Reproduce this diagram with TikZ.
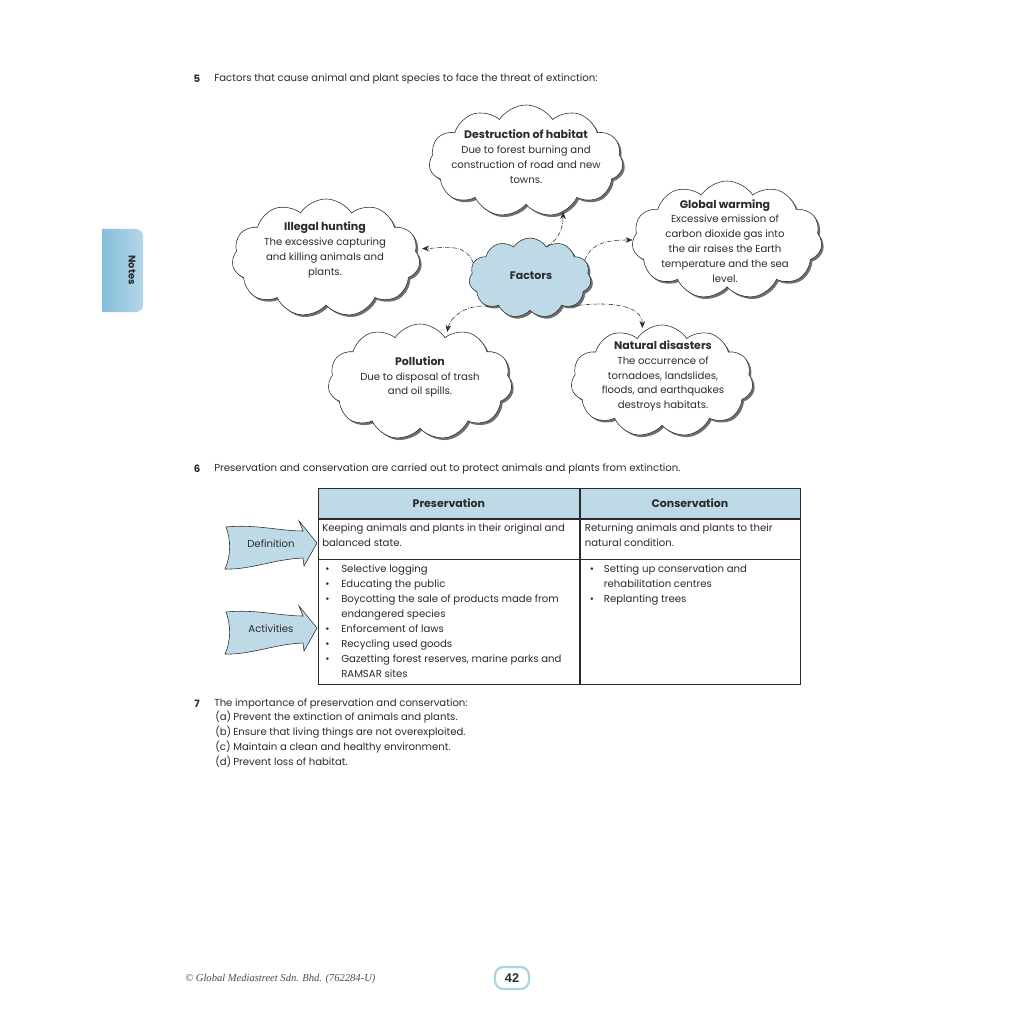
\documentclass[tikz,border=0pt]{standalone}
\usepackage{fontspec}
\setmainfont{Poppins}
\newfontfamily\footfont{Liberation Serif}
\newfontfamily\numfont{Liberation Sans}
\usepackage{tikz}
\usetikzlibrary{positioning,arrows.meta,shapes.symbols,shadows,calc}
\usepackage{xcolor}
\definecolor{inkgrey}{HTML}{2B2B2B}
\definecolor{skyfill}{HTML}{BFDAE7}
\definecolor{tabdark}{HTML}{86BEDB}
\definecolor{tablight}{HTML}{B3D6E8}
\definecolor{frameblue}{HTML}{A8D4E6}
\newcommand{\cloudTitle}[1]{{\fontsize{7.8}{10.6}\selectfont\bfseries #1}}

\begin{document}
\begin{tikzpicture}[
    x=0.025cm, y=-0.025cm,
    bodyText/.style={font=\fontsize{7.2}{10.6}\selectfont, inner sep=0pt, text=inkgrey},
    cloudBox/.style={cloud, cloud puffs=11, cloud puff arc=115, cloud ignores aspect, draw=inkgrey, fill=white, thin, inner sep=0pt,
        drop shadow={shadow xshift=1.5pt, shadow yshift=-1.5pt, opacity=0.7, fill=black!80}},
    cloudText/.style={bodyText, align=center},
    flowArrow/.style={-{Stealth[length=5pt, width=4pt]}, densely dashdotted, draw=inkgrey, thin},
    cellBox/.style={rectangle, draw=inkgrey, thin, inner sep=0pt, anchor=north west, text=inkgrey, font=\fontsize{7.8}{10.6}\selectfont\bfseries},
    blockArrow/.style={draw=inkgrey, fill=skyfill, thin}
]
    \useasboundingbox (0,0) rectangle (1024,1024);
    \fill[white] (0,0) rectangle (1024,1024);

    % side tab
    \shade[left color=tabdark, right color=tablight] (102,229) [rounded corners=5pt] -- (143,229) -- (143,312) [sharp corners] -- (102,312) -- cycle;
    \node[bodyText, font=\fontsize{7}{8}\selectfont\bfseries, rotate=-90] (notesTab) at (132,270) {Notes};

    % section 5
    \node[bodyText, font=\fontsize{7.2}{10.6}\selectfont\bfseries] (numFive) at (197,79) {5};
    \node[bodyText, anchor=west] (headFive) at (214,79) {Factors that cause animal and plant species to face the threat of extinction:};

    \node[cloudBox, minimum width=4.85cm, minimum height=2.8cm] (habitat) at (526,161) {};
    \node[cloudText] (habitatText) at (526,157) {\cloudTitle{Destruction of habitat}\\Due to forest burning and\\construction of road and new\\towns.};

    \node[cloudBox, minimum width=4.7cm, minimum height=2.95cm] (hunting) at (326,258) {};
    \node[cloudText] (huntingText) at (325,250) {\cloudTitle{Illegal hunting}\\The excessive capturing\\and killing animals and\\plants.};

    \node[cloudBox, minimum width=4.75cm, minimum height=2.95cm] (warming) at (727,240) {};
    \node[cloudText] (warmingText) at (725,241) {\cloudTitle{Global warming}\\Excessive emission of\\carbon dioxide gas into\\the air raises the Earth\\temperature and the sea\\level.};

    \node[cloudBox, fill=skyfill, minimum width=3.05cm, minimum height=2cm] (factors) at (530,278) {};
    \node[cloudText] (factorsText) at (531,276) {\cloudTitle{Factors}};

    \node[cloudBox, minimum width=4.6cm, minimum height=2.9cm] (pollution) at (420,382) {};
    \node[cloudText] (pollutionText) at (420,377) {\cloudTitle{Pollution}\\Due to disposal of trash\\and oil spills.};

    \node[cloudBox, minimum width=4.55cm, minimum height=2.8cm] (disaster) at (662,381) {};
    \node[cloudText] (disasterText) at (663,376) {\cloudTitle{Natural disasters}\\The occurrence of\\tornadoes, landslides,\\floods, and earthquakes\\destroys habitats.};

    \draw[flowArrow] (factors.62) to[out=30, in=-90] (habitat.-54);
    \draw[flowArrow, shorten >=4pt] (factors.165) to[out=110, in=0] (hunting.6);
    \draw[flowArrow] (factors.18) to[out=70, in=180] (warming.180);
    \draw[flowArrow, shorten >=3pt] (factors.-145) to[out=170, in=80] (pollution.60);
    \draw[flowArrow, shorten >=3pt] (factors.-35) to[out=10, in=90] (disaster.112);

    % section 6
    \node[bodyText, font=\fontsize{7.2}{10.6}\selectfont\bfseries] (numSix) at (197,469) {6};
    \node[bodyText, anchor=west] (headSix) at (214,469) {Preservation and conservation are carried out to protect animals and plants from extinction.};

    \node[cellBox, fill=skyfill, minimum width=6.525cm, minimum height=0.75cm] (presHead) at (318,488) {Preservation};
    \node[cellBox, fill=skyfill, minimum width=5.5cm, minimum height=0.75cm, right=0pt of presHead] (consHead) {Conservation};
    \node[cellBox, minimum width=6.525cm, minimum height=1cm, below=0pt of presHead] (presDef) {};
    \node[cellBox, minimum width=5.5cm, minimum height=1cm, below=0pt of consHead] (consDef) {};
    \node[cellBox, minimum width=6.525cm, minimum height=3.125cm, below=0pt of presDef] (presAct) {};
    \node[cellBox, minimum width=5.5cm, minimum height=3.125cm, below=0pt of consDef] (consAct) {};

    \node[bodyText, anchor=north west, align=left] (presDefText) at ($(presDef.north west)+(4,5)$) {Keeping animals and plants in their original and\\balanced state.};
    \node[bodyText, anchor=north west, align=left] (consDefText) at ($(consDef.north west)+(5,5)$) {Returning animals and plants to their\\natural condition.};
    \node[bodyText, anchor=north west] (presActText) at ($(presAct.north west)+(7,3)$) {%
        \begin{tabular}{@{}p{0.4cm}@{}l@{}}
        \textbullet & Selective logging\\
        \textbullet & Educating the public\\
        \textbullet & Boycotting the sale of products made from\\
                    & endangered species\\
        \textbullet & Enforcement of laws\\
        \textbullet & Recycling used goods\\
        \textbullet & Gazetting forest reserves, marine parks and\\
                    & RAMSAR sites
        \end{tabular}};
    \node[bodyText, anchor=north west] (consActText) at ($(consAct.north west)+(10,3)$) {%
        \begin{tabular}{@{}p{0.35cm}@{}l@{}}
        \textbullet & Setting up conservation and\\
                    & rehabilitation centres\\
        \textbullet & Replanting trees
        \end{tabular}};

    \foreach \ay/\lbl in {544/Definition, 629/Activities} {
        \draw[blockArrow] (226,\ay-17) .. controls (255,\ay-20) and (280,\ay-13) .. (303,\ay-13) -- (299,\ay-23) -- (317,\ay-1)
            -- (304,\ay+22) -- (303,\ay+14) .. controls (275,\ay+15) and (250,\ay+26) .. (225,\ay+25)
            .. controls (231,\ay+12) and (231,\ay-4) .. (226,\ay-17) -- cycle;
        \node[bodyText] (\lbl Tag) at (271,\ay) {\lbl};
    }

    % section 7
    \node[bodyText, font=\fontsize{7.2}{10.6}\selectfont\bfseries] (numSeven) at (197,704) {7};
    \node[bodyText, anchor=west] (headSeven) at (214,704) {The importance of preservation and conservation:};
    \node[bodyText, anchor=north west] (listSeven) at (215,710) {%
        \begin{tabular}{@{}p{0.45cm}@{}l@{}}
        (a) & Prevent the extinction of animals and plants.\\
        (b) & Ensure that living things are not overexploited.\\
        (c) & Maintain a clean and healthy environment.\\
        (d) & Prevent loss of habitat.
        \end{tabular}};

    % footer
    \node[inner sep=0pt, anchor=west, text=black!70, font=\footfont\itshape\fontsize{7.5}{9}\selectfont] (credit) at (185,979) {© Global Mediastreet Sdn. Bhd. (762284-U)};
    \node[draw=frameblue, line width=1.5pt, rounded corners=6pt, minimum width=0.85cm, minimum height=0.55cm, inner sep=0pt, text=inkgrey, font=\numfont\bfseries\fontsize{9}{10}\selectfont] (pageNum) at (512,978) {42};
\end{tikzpicture}
\end{document}
